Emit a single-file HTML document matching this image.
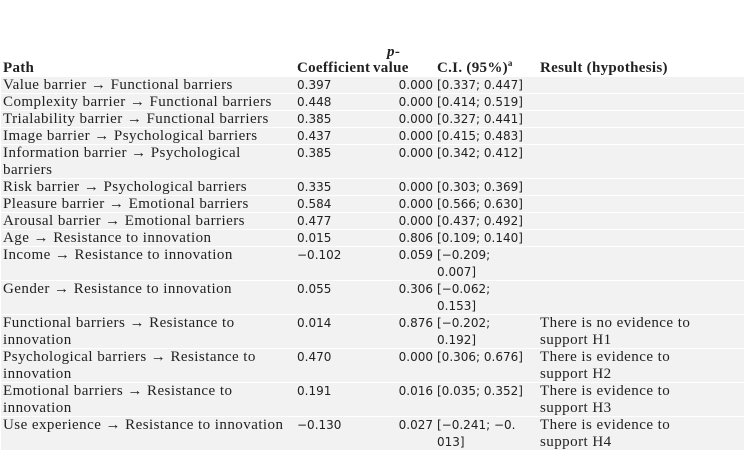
<!DOCTYPE html>
<html><head><meta charset="utf-8"><style>
body{margin:0;background:#fff;width:746px;height:453px;overflow:hidden;font-family:"Liberation Serif",serif;color:#222}
table{position:absolute;left:1px;top:43px;border-collapse:separate;border-spacing:0 1px;width:743px;table-layout:fixed}
td,th{padding:0 2px;font-size:15px;letter-spacing:0.45px;line-height:16px;height:16px;vertical-align:top;white-space:nowrap;text-align:left;overflow:hidden}
td.d{line-height:16.5px;height:33px}
th{font-weight:bold;vertical-align:bottom;letter-spacing:0.3px}
tbody tr td{background:#f2f2f2}
.n{font-family:"DejaVu Sans",sans-serif;font-size:12px;letter-spacing:0}
.r{text-align:right}
</style></head><body>
<table>
<colgroup><col style="width:294px"><col style="width:78px"><col style="width:62px"><col style="width:103px"><col></colgroup>
<thead><tr><th>Path</th><th>Coefficient</th><th style="text-align:left;padding-left:0"><span style="padding-left:14px"><i>p</i>-</span><br>value</th><th>C.I. (95%)<sup style="font-size:9px">a</sup></th><th>Result (hypothesis)</th></tr></thead>
<tbody>
<tr><td>Value barrier → Functional barriers</td><td class="n">0.397</td><td class="n r">0.000</td><td class="n">[0.337; 0.447]</td><td></td></tr>
<tr><td>Complexity barrier → Functional barriers</td><td class="n">0.448</td><td class="n r">0.000</td><td class="n">[0.414; 0.519]</td><td></td></tr>
<tr><td>Trialability barrier → Functional barriers</td><td class="n">0.385</td><td class="n r">0.000</td><td class="n">[0.327; 0.441]</td><td></td></tr>
<tr><td>Image barrier → Psychological barriers</td><td class="n">0.437</td><td class="n r">0.000</td><td class="n">[0.415; 0.483]</td><td></td></tr>
<tr><td class="d">Information barrier → Psychological<br>barriers</td><td class="n">0.385</td><td class="n r">0.000</td><td class="n">[0.342; 0.412]</td><td></td></tr>
<tr><td>Risk barrier → Psychological barriers</td><td class="n">0.335</td><td class="n r">0.000</td><td class="n">[0.303; 0.369]</td><td></td></tr>
<tr><td>Pleasure barrier → Emotional barriers</td><td class="n">0.584</td><td class="n r">0.000</td><td class="n">[0.566; 0.630]</td><td></td></tr>
<tr><td>Arousal barrier → Emotional barriers</td><td class="n">0.477</td><td class="n r">0.000</td><td class="n">[0.437; 0.492]</td><td></td></tr>
<tr><td>Age → Resistance to innovation</td><td class="n">0.015</td><td class="n r">0.806</td><td class="n">[0.109; 0.140]</td><td></td></tr>
<tr><td class="d">Income → Resistance to innovation</td><td class="n">−0.102</td><td class="n r">0.059</td><td class="n d">[−0.209;<br>0.007]</td><td></td></tr>
<tr><td class="d">Gender → Resistance to innovation</td><td class="n">0.055</td><td class="n r">0.306</td><td class="n d">[−0.062;<br>0.153]</td><td></td></tr>
<tr><td class="d">Functional barriers → Resistance to<br>innovation</td><td class="n">0.014</td><td class="n r">0.876</td><td class="n d">[−0.202;<br>0.192]</td><td class="d">There is no evidence to<br>support H1</td></tr>
<tr><td class="d">Psychological barriers → Resistance to<br>innovation</td><td class="n">0.470</td><td class="n r">0.000</td><td class="n">[0.306; 0.676]</td><td class="d">There is evidence to<br>support H2</td></tr>
<tr><td class="d">Emotional barriers → Resistance to<br>innovation</td><td class="n">0.191</td><td class="n r">0.016</td><td class="n">[0.035; 0.352]</td><td class="d">There is evidence to<br>support H3</td></tr>
<tr><td class="d">Use experience → Resistance to innovation</td><td class="n">−0.130</td><td class="n r">0.027</td><td class="n d">[−0.241; −0.<br>013]</td><td class="d">There is evidence to<br>support H4</td></tr>
</tbody></table>
</body></html>
